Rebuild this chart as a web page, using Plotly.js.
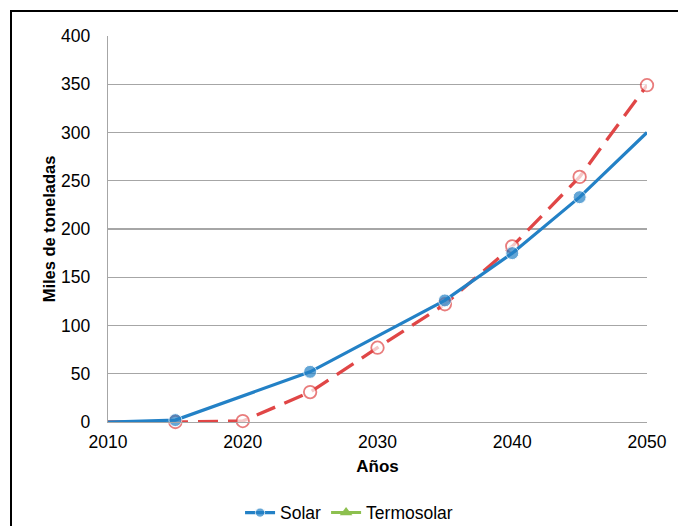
<!DOCTYPE html>
<html>
<head>
<meta charset="utf-8">
<script src="https://cdn.plot.ly/plotly-3.0.1.min.js"></script>
<style>
  html, body { margin: 0; padding: 0; background: #fff; overflow: hidden; }
  #wrap { position: relative; width: 678px; height: 526px; }
  #chart { position: absolute; left: 0; top: 0; width: 678px; height: 526px; }
  #frame { position: absolute; left: 10px; top: 10px; width: 720px; height: 600px;
           border-left: 2px solid #000; border-top: 2px solid #000; pointer-events: none; }
</style>
</head>
<body>
<div id="wrap">
  <div id="chart"></div>
  <div id="frame"></div>
</div>
<script>
// Data
const solarYears = [2010, 2015, 2025, 2035, 2040, 2045, 2050];
const solarValues = [0, 2, 52, 126, 175, 233, 300];

const redYears = [2010, 2015, 2020, 2025, 2030, 2035, 2040, 2045, 2050];
const redValues = [0, 0, 1, 31, 77, 122, 182, 254, 349];

// Termosolar: no visible marks in the reference, only its legend entry
const termosolarYears = [2010];
const termosolarValues = [null];

const xTicks = [2010, 2020, 2030, 2040, 2050];
const yTicks = [0, 50, 100, 150, 200, 250, 300, 350, 400];

const FONT = 'Liberation Sans, Arial, sans-serif';

const solarSizes = solarYears.map((y, i) => (i === 0 || i === solarYears.length - 1) ? 0 : 13);
const redSizes = redYears.map((y, i) => (i === 0) ? 0 : 12.5);

const traces = [
  {
    x: redYears, y: redValues, name: 'Serie 3', type: 'scatter', mode: 'lines+markers',
    showlegend: false, cliponaxis: false,
    line: { color: '#E04646', width: 3.3, dash: '20px,10px' },
    marker: { symbol: 'circle', size: redSizes, color: '#ffffff', line: { color: '#E04646', width: 1.8 } }
  },
  {
    x: solarYears, y: solarValues, name: 'Solar', type: 'scatter', mode: 'lines+markers',
    cliponaxis: false,
    line: { color: '#2381C6', width: 3.2 },
    marker: { symbol: 'circle', size: solarSizes, color: '#2381C6' }
  },
  {
    x: termosolarYears, y: termosolarValues, name: 'Termosolar', type: 'scatter', mode: 'lines+markers',
    line: { color: '#8DC04F', width: 3 },
    marker: { symbol: 'triangle-up', size: 11, color: '#8DC04F' }
  }
];

const layout = {
  width: 678, height: 526,
  margin: { l: 108, r: 31, t: 36, b: 104, autoexpand: false },
  paper_bgcolor: 'rgba(0,0,0,0)',
  plot_bgcolor: '#ffffff',
  font: { family: FONT, size: 17.5, color: '#000' },
  showlegend: true,
  legend: {
    orientation: 'h', x: 0.245, xanchor: 'left', y: -0.235, yanchor: 'middle',
    font: { family: FONT, size: 17.5, color: '#000' },
    traceorder: 'normal', itemwidth: 30, bgcolor: 'rgba(0,0,0,0)'
  },
  xaxis: {
    range: [2010, 2050], tickvals: xTicks, ticktext: xTicks.map(String),
    showgrid: false, zeroline: false, showline: true, linecolor: '#A6A6A6', linewidth: 1.3,
    ticks: '', ticklabelstandoff: 4,
    tickfont: { family: FONT, size: 17.5, color: '#000' },
    title: { text: '<b>Años</b>', font: { family: FONT, size: 17, color: '#000' }, standoff: 8 }
  },
  yaxis: {
    range: [0, 400], tickvals: yTicks, ticktext: yTicks.map(String),
    showgrid: true, gridcolor: '#A6A6A6', gridwidth: 1.3, zeroline: false,
    showline: true, linecolor: '#A6A6A6', linewidth: 1.3,
    ticks: '', ticklabelstandoff: 13,
    tickfont: { family: FONT, size: 17.5, color: '#000' },
    title: { text: '<b>Miles de toneladas</b>', font: { family: FONT, size: 16.5, color: '#000' }, standoff: 1 }
  }
};

Plotly.newPlot('chart', traces, layout, { displayModeBar: false, staticPlot: true });
</script>
</body>
</html>
